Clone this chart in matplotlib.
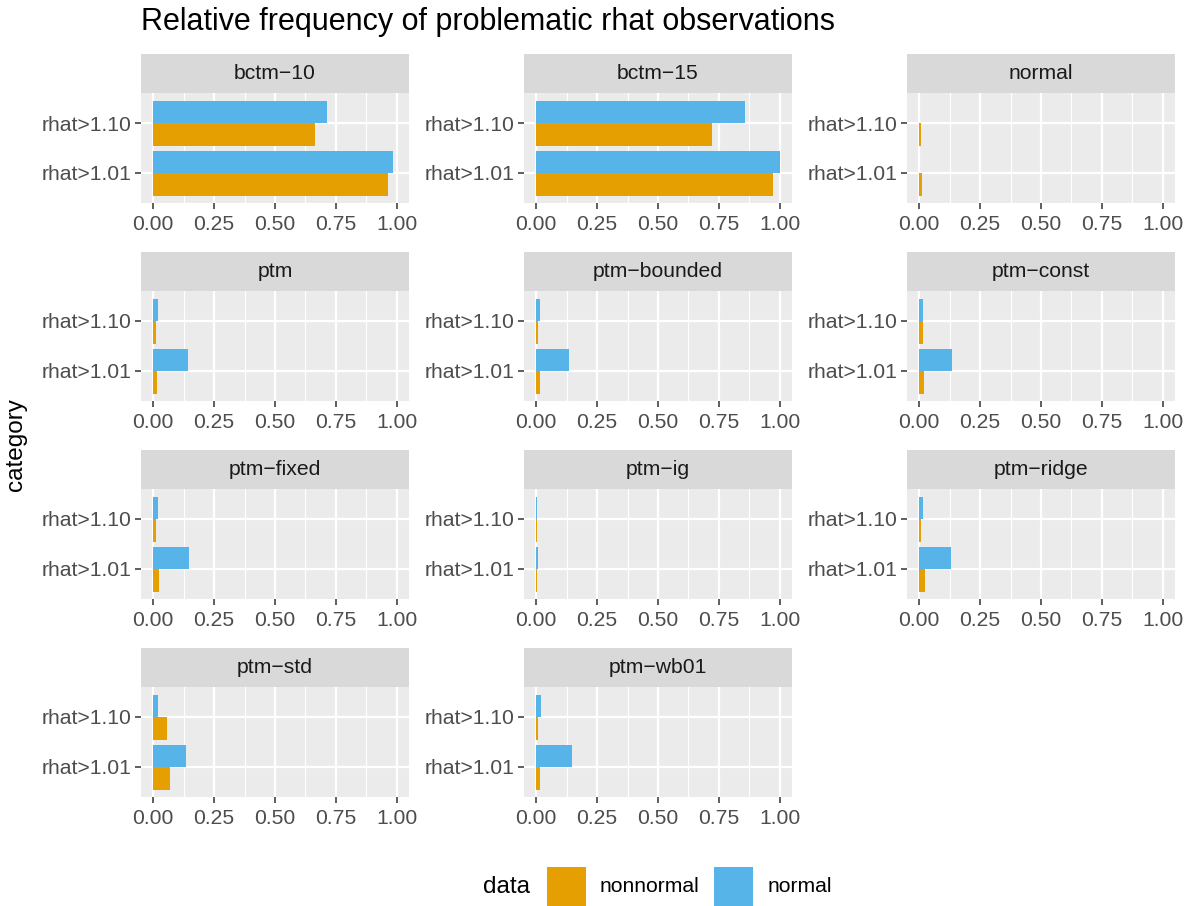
import matplotlib
matplotlib.use("Agg")
import matplotlib.pyplot as plt
from matplotlib.patches import Rectangle
import numpy as np

# ---- data ----
panels = ["bctm\u221210", "bctm\u221215", "normal", "ptm", "ptm\u2212bounded", "ptm\u2212const",
          "ptm\u2212fixed", "ptm\u2212ig", "ptm\u2212ridge", "ptm\u2212std", "ptm\u2212wb01"]
categories = ["rhat>1.01", "rhat>1.10"]
nonnormal_101 = [0.962, 0.971, 0.010, 0.016, 0.016, 0.020, 0.022, 0.005, 0.022, 0.067, 0.016]
nonnormal_110 = [0.666, 0.721, 0.007, 0.010, 0.008, 0.015, 0.011, 0.005, 0.008, 0.056, 0.008]
normal_101 = [0.983, 1.000, 0.000, 0.142, 0.135, 0.135, 0.146, 0.008, 0.130, 0.136, 0.147]
normal_110 = [0.715, 0.856, 0.000, 0.018, 0.014, 0.015, 0.019, 0.005, 0.014, 0.018, 0.020]
series_names = ["nonnormal", "normal"]
series_colors = ["#E69F00", "#56B4E9"]
x_ticks = [0.0, 0.25, 0.5, 0.75, 1.0]
x_ticklabels = ["0.00", "0.25", "0.50", "0.75", "1.00"]

plt.rcParams["font.family"] = ["Liberation Sans", "DejaVu Sans"]

W, H = 1191, 906
fig = plt.figure(figsize=(W / 100, H / 100), dpi=100)


def px_rect(left, top, width, height):
    return [left / W, 1 - (top + height) / H, width / W, height / H]


col_left = [141, 524, 907]
panel_w = 268
row_top = [93, 291, 489, 687]
panel_h = 110
strip_h = 39

PANEL_BG = "#EBEBEB"
STRIP_BG = "#D9D9D9"
TEXT_AX = "#4D4D4D"
TICK_C = "#333333"
SMALL = 15.2
MID = 17.5

bar_h = 0.45
for i, name in enumerate(panels):
    r, c = divmod(i, 3)
    ax = fig.add_axes(px_rect(col_left[c], row_top[r], panel_w, panel_h))
    ax.set_facecolor(PANEL_BG)
    for s in ax.spines.values():
        s.set_visible(False)

    ypos = np.arange(1, len(categories) + 1)
    nn = [nonnormal_101[i], nonnormal_110[i]]
    nm = [normal_101[i], normal_110[i]]
    ax.barh(ypos - bar_h / 2, nn, height=bar_h, color=series_colors[0], zorder=3)
    ax.barh(ypos + bar_h / 2, nm, height=bar_h, color=series_colors[1], zorder=3)

    ax.set_xlim(-0.05, 1.05)
    ax.set_ylim(0.4, 2.6)
    ax.set_xticks(x_ticks)
    ax.set_xticklabels(x_ticklabels)
    ax.set_xticks([0.125, 0.375, 0.625, 0.875], minor=True)
    ax.set_yticks(ypos)
    ax.set_yticklabels(categories)
    ax.grid(which="major", color="white", linewidth=1.6, zorder=0)
    ax.grid(which="minor", axis="x", color="white", linewidth=0.8, zorder=0)
    ax.set_axisbelow(True)
    ax.tick_params(which="major", length=4, width=1.1, color=TICK_C,
                   labelsize=SMALL, labelcolor=TEXT_AX)
    ax.tick_params(axis="x", which="major", pad=4.5)
    ax.tick_params(axis="y", which="major", pad=3)
    ax.tick_params(which="minor", length=0)

    # facet strip
    sax = fig.add_axes(px_rect(col_left[c], row_top[r] - strip_h, panel_w, strip_h))
    sax.set_facecolor(STRIP_BG)
    sax.set_xticks([])
    sax.set_yticks([])
    for s in sax.spines.values():
        s.set_visible(False)
    sax.text(0.5, 0.5, name, ha="center", va="center", fontsize=SMALL,
             color="#1A1A1A", transform=sax.transAxes)

fig.text(141 / W, 1 - 22 / H, "Relative frequency of problematic rhat observations",
         ha="left", va="center", fontsize=22, color="black")
fig.text(16 / W, 1 - 445 / H, "category", rotation=90, ha="center", va="center",
         fontsize=MID, color="black")

# legend at the bottom
leg_y = 887
fig.text(507 / W, 1 - leg_y / H, "data", ha="center", va="center", fontsize=MID)
key_x = [547, 714]
label_x = [600, 768]
for k in range(2):
    fig.patches.append(Rectangle((key_x[k] / W, 1 - (leg_y + 20) / H), 39 / W, 40 / H,
                                 transform=fig.transFigure, facecolor=series_colors[k],
                                 edgecolor="none"))
    fig.text(label_x[k] / W, 1 - leg_y / H, series_names[k], ha="left", va="center",
             fontsize=SMALL)

fig.savefig("out.png", dpi=100, facecolor="white")
